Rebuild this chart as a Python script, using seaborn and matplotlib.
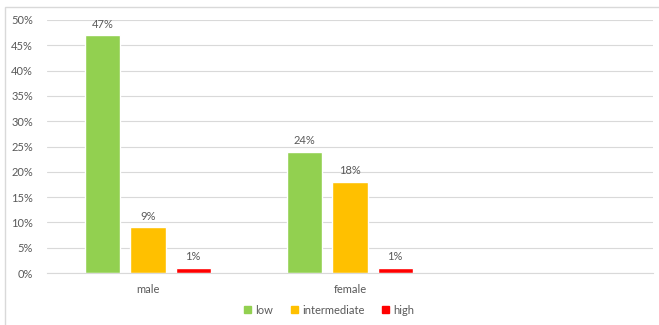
import matplotlib
matplotlib.use("Agg")
import matplotlib.pyplot as plt
import matplotlib.patches as mpatches
import seaborn as sns
import pandas as pd

# data
genders = ["male", "female"]
levels = ["low", "intermediate", "high"]
low = [0.47, 0.24]
intermediate = [0.09, 0.18]
high = [0.01, 0.01]
colors = ["#92D050", "#FFC000", "#FF0000"]
y_ticks = [0.0, 0.05, 0.10, 0.15, 0.20, 0.25, 0.30, 0.35, 0.40, 0.45, 0.50]

rows = []
for i, g in enumerate(genders):
    for lvl, vals in zip(levels, [low, intermediate, high]):
        rows.append({"gender": g, "level": lvl, "share": vals[i]})
df = pd.DataFrame(rows)

sns.set_style("white")
plt.rcParams["font.family"] = ["Lato", "DejaVu Sans"]
text_color = "#595959"

fig = plt.figure(figsize=(6.59, 3.25), dpi=100)
ax = fig.add_axes([47 / 659, 1 - 273 / 325, 606 / 659, 253 / 325])

# third slot is empty in the original chart
order = genders + [" "]
sns.barplot(data=df, x="gender", y="share", hue="level", order=order,
            hue_order=levels, palette=colors, width=0.672, gap=0.222,
            errorbar=None, ax=ax, legend=False, saturation=1)

for cont in ax.containers:
    ax.bar_label(cont, fmt="{:.0%}", padding=4, fontsize=8, color=text_color)

ax.set_ylim(0, 0.5)
ax.set_xlim(-0.5, 2.5)
ax.set_yticks(y_ticks)
ax.set_yticklabels([f"{t:.0%}" for t in y_ticks])
ax.yaxis.grid(True, color="#D9D9D9", linewidth=0.8)
ax.set_axisbelow(True)
ax.tick_params(axis="both", length=0, labelsize=8, labelcolor=text_color)
ax.tick_params(axis="x", pad=8)
ax.tick_params(axis="y", pad=10)
ax.set_xlabel("")
ax.set_ylabel("")
for side in ["top", "right", "left"]:
    ax.spines[side].set_visible(False)
ax.spines["bottom"].set_color("#D9D9D9")
ax.spines["bottom"].set_linewidth(0.8)

handles = [mpatches.Patch(color=c, label=l) for c, l in zip(colors, levels)]
fig.legend(handles=handles, loc="center", bbox_to_anchor=(0.5, 1 - 310 / 325),
           ncol=3, frameon=False, fontsize=8, handlelength=0.6, handleheight=0.6,
           handletextpad=0.4, columnspacing=1.6, labelcolor=text_color)

# chart area border
border = mpatches.Rectangle((5 / 659, -0.05), 1.0, 1 - 7 / 325 + 0.05,
                            transform=fig.transFigure, fill=False,
                            edgecolor="#D9D9D9", linewidth=1.0)
fig.patches.append(border)

fig.savefig("out.png", dpi=100)
